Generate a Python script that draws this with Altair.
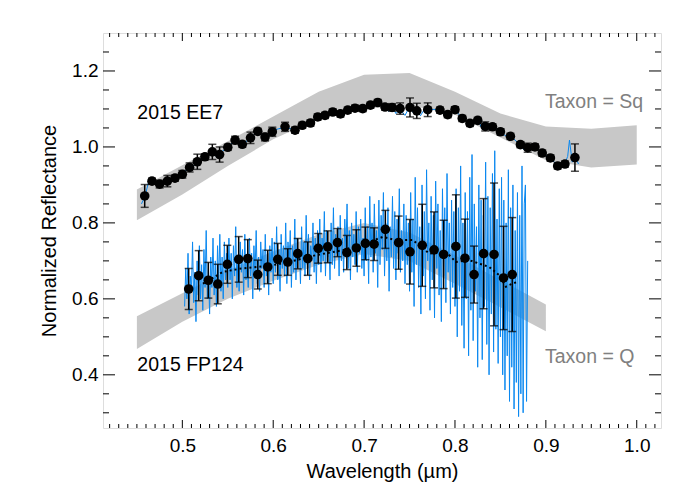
import altair as alt
import pandas as pd

# ---------------- data ----------------
# Taxon Sq envelope (upper gray band)
sq_wl = [0.45, 0.50, 0.55, 0.60, 0.65, 0.70, 0.75, 0.80, 0.85, 0.90, 0.95, 1.00]
sq_hi = [0.888, 0.952, 1.015, 1.080, 1.145, 1.190, 1.195, 1.145, 1.088, 1.054, 1.048, 1.057]
sq_lo = [0.807, 0.875, 0.950, 1.020, 1.075, 1.100, 1.110, 1.085, 1.025, 0.965, 0.946, 0.954]

# Taxon Q envelope (lower gray band)
q_wl = [0.45, 0.50, 0.55, 0.60, 0.65, 0.70, 0.75, 0.80, 0.85, 0.90]
q_hi = [0.554, 0.615, 0.675, 0.725, 0.770, 0.800, 0.775, 0.715, 0.650, 0.585]
q_lo = [0.468, 0.540, 0.600, 0.648, 0.690, 0.718, 0.700, 0.640, 0.578, 0.515]

# 2015 EE7 binned points
ee7_wl = [0.4586, 0.4666, 0.4750, 0.4835, 0.4919, 0.5000, 0.5080, 0.5165, 0.5248, 0.5330,
          0.5410, 0.5500, 0.5580, 0.5660, 0.5750, 0.5830, 0.5910, 0.5990, 0.6130, 0.6240,
          0.6320, 0.6410, 0.6490, 0.6570, 0.6655, 0.6740, 0.6820, 0.6900, 0.6985, 0.7070,
          0.7150, 0.7230, 0.7308, 0.7396, 0.7505, 0.7580, 0.7700, 0.7835, 0.7920, 0.8000,
          0.8080, 0.8165, 0.8250, 0.8333, 0.8413, 0.8500, 0.8610, 0.8720, 0.8800, 0.8880,
          0.8960, 0.9050, 0.9130, 0.9210, 0.9320]
ee7_val = [0.871, 0.910, 0.902, 0.910, 0.918, 0.928, 0.946, 0.961, 0.974, 0.987,
           0.980, 0.999, 1.018, 1.007, 1.024, 1.041, 1.026, 1.040, 1.053, 1.044,
           1.057, 1.063, 1.079, 1.083, 1.092, 1.087, 1.097, 1.102, 1.101, 1.110,
           1.117, 1.105, 1.104, 1.101, 1.104, 1.095, 1.098, 1.097, 1.085, 1.098,
           1.075, 1.062, 1.070, 1.054, 1.053, 1.040, 1.028, 1.006, 0.998, 1.000,
           0.984, 0.971, 0.950, 0.955, 0.972]
ee7_err = [0.030, 0.008, 0.010, 0.015, 0.008, 0.010, 0.012, 0.020, 0.008, 0.020,
           0.020, 0.008, 0.010, 0.008, 0.015, 0.008, 0.010, 0.012, 0.012, 0.008,
           0.008, 0.008, 0.008, 0.008, 0.008, 0.008, 0.008, 0.008, 0.008, 0.008,
           0.008, 0.008, 0.010, 0.015, 0.025, 0.020, 0.018, 0.008, 0.008, 0.008,
           0.008, 0.008, 0.008, 0.012, 0.008, 0.008, 0.008, 0.008, 0.012, 0.008,
           0.008, 0.008, 0.008, 0.008, 0.036]

# 2015 EE7 full-resolution spectrum (blue, mostly behind the points)
ee7_spec_wl = [0.455, 0.4586, 0.4626, 0.4666, 0.471, 0.475, 0.4835, 0.4919, 0.500, 0.504,
               0.508, 0.5165, 0.5248, 0.529, 0.533, 0.537, 0.541, 0.550, 0.558, 0.566,
               0.575, 0.583, 0.591, 0.599, 0.606, 0.613, 0.624, 0.632, 0.641, 0.649,
               0.657, 0.6655, 0.674, 0.682, 0.690, 0.6985, 0.707, 0.715, 0.723, 0.727,
               0.7308, 0.735, 0.7396, 0.745, 0.7505, 0.754, 0.758, 0.762, 0.766, 0.770,
               0.777, 0.7835, 0.792, 0.800, 0.808, 0.8165, 0.825, 0.829, 0.8333, 0.8413,
               0.850, 0.855, 0.861, 0.872, 0.876, 0.880, 0.888, 0.896, 0.905, 0.913,
               0.921, 0.924, 0.926, 0.929, 0.932, 0.936]
ee7_spec_val = [0.850, 0.868, 0.905, 0.912, 0.905, 0.898, 0.912, 0.915, 0.930, 0.938,
                0.944, 0.958, 0.976, 0.982, 0.990, 0.975, 0.982, 1.001, 1.016, 1.009,
                1.021, 1.043, 1.024, 1.042, 1.048, 1.051, 1.046, 1.055, 1.065, 1.077,
                1.085, 1.090, 1.089, 1.095, 1.104, 1.099, 1.112, 1.115, 1.103, 1.094,
                1.106, 1.088, 1.099, 1.083, 1.108, 1.090, 1.097, 1.082, 1.098, 1.096,
                1.099, 1.095, 1.087, 1.096, 1.077, 1.060, 1.072, 1.052, 1.056, 1.051,
                1.042, 1.030, 1.030, 1.004, 0.992, 1.000, 0.998, 0.986, 0.969, 0.952,
                0.957, 0.975, 1.018, 0.960, 0.975, 0.955]

# 2015 FP124 binned points
fp_wl = [0.507, 0.518, 0.5286, 0.539, 0.5495, 0.562, 0.572, 0.583, 0.594, 0.605,
         0.616, 0.627, 0.638, 0.6495, 0.660, 0.6707, 0.681, 0.6915, 0.7014, 0.711,
         0.7234, 0.738, 0.7505, 0.764, 0.777, 0.7875, 0.801, 0.811, 0.821, 0.8315,
         0.843, 0.8534, 0.863]
fp_val = [0.626, 0.661, 0.649, 0.639, 0.691, 0.704, 0.706, 0.664, 0.684, 0.704,
          0.697, 0.719, 0.706, 0.733, 0.737, 0.748, 0.722, 0.734, 0.746, 0.744,
          0.783, 0.748, 0.724, 0.741, 0.729, 0.717, 0.738, 0.707, 0.664, 0.719,
          0.717, 0.655, 0.664]
fp_err = [0.054, 0.066, 0.047, 0.052, 0.050, 0.060, 0.050, 0.038, 0.044, 0.042,
          0.035, 0.040, 0.044, 0.039, 0.042, 0.037, 0.045, 0.048, 0.043, 0.043,
          0.050, 0.070, 0.085, 0.108, 0.100, 0.090, 0.136, 0.103, 0.075, 0.145,
          0.188, 0.136, 0.150]

# 2015 FP124 smoothed (dotted) curve
fp_smooth_wl = [0.5227, 0.5446, 0.5648, 0.583, 0.600, 0.617, 0.647, 0.6765, 0.700, 0.7204,
                0.735, 0.7535, 0.7718, 0.790, 0.801, 0.8157, 0.8377, 0.8487, 0.856, 0.863, 0.868]
fp_smooth_val = [0.640, 0.671, 0.680, 0.684, 0.689, 0.697, 0.715, 0.728, 0.745, 0.763,
                 0.755, 0.755, 0.719, 0.724, 0.697, 0.702, 0.684, 0.662, 0.632, 0.640, 0.644]

# 2015 FP124 full-resolution spectrum (noisy blue), wavelength start/step
fp_spec_start = 0.5025
fp_spec_step = 0.00125
fp_spec_val = [
    # 0.50 - 0.55
    0.58, 0.68, 0.60, 0.72, 0.56, 0.66, 0.62, 0.75, 0.59, 0.67,
    0.54, 0.70, 0.61, 0.74, 0.60, 0.69, 0.57, 0.73, 0.63, 0.78,
    0.60, 0.68, 0.56, 0.71, 0.63, 0.76, 0.61, 0.70, 0.58, 0.74,
    0.64, 0.77, 0.62, 0.71, 0.60, 0.75, 0.65, 0.72,
    # 0.55 - 0.60
    0.63, 0.76, 0.65, 0.72, 0.60, 0.74, 0.66, 0.79, 0.63, 0.71,
    0.62, 0.75, 0.67, 0.73, 0.61, 0.77, 0.65, 0.70, 0.63, 0.76,
    0.66, 0.72, 0.60, 0.74, 0.67, 0.78, 0.64, 0.71, 0.62, 0.75,
    0.68, 0.73, 0.63, 0.77, 0.66, 0.72, 0.61, 0.74, 0.67, 0.76,
    # 0.60 - 0.65
    0.64, 0.75, 0.67, 0.79, 0.65, 0.73, 0.62, 0.77, 0.68, 0.74,
    0.66, 0.80, 0.64, 0.75, 0.69, 0.78, 0.63, 0.74, 0.67, 0.81,
    0.65, 0.76, 0.70, 0.73, 0.64, 0.79, 0.68, 0.75, 0.66, 0.82,
    0.69, 0.77, 0.65, 0.74, 0.70, 0.80, 0.67, 0.76, 0.64, 0.78,
    # 0.65 - 0.70
    0.69, 0.81, 0.67, 0.76, 0.70, 0.83, 0.66, 0.78, 0.71, 0.75,
    0.65, 0.80, 0.69, 0.84, 0.68, 0.77, 0.72, 0.79, 0.66, 0.82,
    0.70, 0.76, 0.67, 0.81, 0.73, 0.85, 0.68, 0.78, 0.65, 0.80,
    0.71, 0.77, 0.69, 0.83, 0.67, 0.79, 0.72, 0.81, 0.68, 0.76,
    # 0.70 - 0.75
    0.66, 0.84, 0.70, 0.79, 0.64, 0.87, 0.71, 0.80, 0.67, 0.85,
    0.72, 0.78, 0.63, 0.86, 0.69, 0.82, 0.73, 0.88, 0.66, 0.80,
    0.70, 0.84, 0.62, 0.79, 0.71, 0.87, 0.68, 0.83, 0.65, 0.81,
    0.72, 0.89, 0.67, 0.78, 0.70, 0.85, 0.64, 0.82, 0.69, 0.80,
    # 0.75 - 0.80
    0.62, 0.88, 0.67, 0.81, 0.58, 0.92, 0.69, 0.84, 0.63, 0.79,
    0.56, 0.90, 0.66, 0.83, 0.60, 0.94, 0.70, 0.80, 0.57, 0.87,
    0.65, 0.82, 0.55, 0.91, 0.68, 0.85, 0.61, 0.78, 0.54, 0.89,
    0.66, 0.84, 0.59, 0.93, 0.67, 0.80, 0.56, 0.86, 0.63, 0.83,
    # 0.80 - 0.85
    0.58, 0.89, 0.50, 0.84, 0.62, 0.95, 0.53, 0.80, 0.47, 0.88,
    0.60, 0.83, 0.45, 0.92, 0.57, 0.98, 0.49, 0.85, 0.62, 0.79,
    0.42, 0.90, 0.55, 0.86, 0.44, 0.82, 0.58, 0.96, 0.48, 0.87,
    0.40, 0.84, 0.56, 0.93, 0.46, 0.99, 0.52, 0.81, 0.43, 0.89,
    # 0.85 - 0.88
    0.50, 0.92, 0.40, 0.86, 0.36, 0.80, 0.45, 0.94, 0.33, 0.84,
    0.42, 0.90, 0.31, 0.78, 0.38, 0.88, 0.29, 0.82, 0.35, 0.95,
    0.30, 0.85, 0.90, 0.33, 0.70,
]

# annotations
black_labels = ["2015 EE7", "2015 FP124"]
black_label_x = [0.4505, 0.4505]
black_label_y = [1.089, 0.427]
gray_labels = ["Taxon = Sq", "Taxon = Q"]
gray_label_x = [0.899, 0.899]
gray_label_y = [1.118, 0.446]

# axis ticks
x_major = [0.5, 0.6, 0.7, 0.8, 0.9, 1.0]
x_minor = [round(0.42 + 0.01 * i, 2) for i in range(61)]
x_minor = [v for v in x_minor if round(v * 10, 6) != round(v * 10)]
y_major = [0.4, 0.6, 0.8, 1.0, 1.2]
y_minor = [round(0.30 + 0.05 * i, 2) for i in range(20)]
y_minor = [v for v in y_minor if v not in y_major]

# ---------------- chart ----------------
FONT = "Liberation Sans"
W, H = 558, 395
BLUE = "#0a88f0"
GRAY = "#c8c8c8"

xscale = alt.Scale(domain=[0.4127, 1.0267], nice=False, zero=False)
yscale = alt.Scale(domain=[0.26, 1.30], nice=False, zero=False)
xaxis = alt.Axis(values=x_major, format=".1f", title="Wavelength (µm)", ticks=False,
                 domain=False, grid=False, labelFontSize=19, titleFontSize=20,
                 labelPadding=8, titlePadding=6, labelFont=FONT, titleFont=FONT,
                 titleFontWeight="normal", labelColor="black", titleColor="black")
yaxis = alt.Axis(values=y_major, format=".1f", title="Normalized Reflectance", ticks=False,
                 domain=False, grid=False, labelFontSize=19, titleFontSize=20,
                 labelPadding=5, titlePadding=12, labelFont=FONT, titleFont=FONT,
                 titleFontWeight="normal", labelColor="black", titleColor="black")


def X():
    return alt.X("x:Q", scale=xscale, axis=xaxis)


def Y():
    return alt.Y("y:Q", scale=yscale, axis=yaxis)


sq_df = pd.DataFrame({"x": sq_wl, "y": sq_hi, "y2": sq_lo})
q_df = pd.DataFrame({"x": q_wl, "y": q_hi, "y2": q_lo})
ee7_df = pd.DataFrame({"x": ee7_wl, "y": ee7_val,
                       "lo": [v - e for v, e in zip(ee7_val, ee7_err)],
                       "hi": [v + e for v, e in zip(ee7_val, ee7_err)]})
fp_df = pd.DataFrame({"x": fp_wl, "y": fp_val,
                      "lo": [v - e for v, e in zip(fp_val, fp_err)],
                      "hi": [v + e for v, e in zip(fp_val, fp_err)]})
pts_df = pd.concat([ee7_df, fp_df], ignore_index=True)
ee7_spec_df = pd.DataFrame({"x": ee7_spec_wl, "y": ee7_spec_val})
fp_spec_df = pd.DataFrame({"x": [fp_spec_start + fp_spec_step * i for i in range(len(fp_spec_val))],
                           "y": fp_spec_val})
smooth_df = pd.DataFrame({"x": fp_smooth_wl, "y": fp_smooth_val})
black_df = pd.DataFrame({"x": black_label_x, "y": black_label_y, "t": black_labels})
gray_df = pd.DataFrame({"x": gray_label_x, "y": gray_label_y, "t": gray_labels})
xmaj_df = pd.DataFrame({"x": x_major})
xmin_df = pd.DataFrame({"x": x_minor})
ymaj_df = pd.DataFrame({"y": y_major})
ymin_df = pd.DataFrame({"y": y_minor})

sq_band = alt.Chart(sq_df).mark_area(color=GRAY, opacity=1).encode(x=X(), y=Y(), y2="y2:Q")
q_band = alt.Chart(q_df).mark_area(color=GRAY, opacity=1).encode(x=X(), y=Y(), y2="y2:Q")
ee7_spec = alt.Chart(ee7_spec_df).mark_line(color=BLUE, strokeWidth=1).encode(x=X(), y=Y(), order="x:Q")
fp_spec = alt.Chart(fp_spec_df).mark_line(color=BLUE, strokeWidth=1).encode(x=X(), y=Y(), order="x:Q")
smooth = alt.Chart(smooth_df).mark_line(color="black", strokeWidth=2, strokeDash=[2, 3]).encode(
    x=X(), y=Y(), order="x:Q")
stems = alt.Chart(pts_df).mark_rule(color="black", strokeWidth=1.5).encode(
    x=X(), y=alt.Y("lo:Q", scale=yscale, axis=yaxis), y2="hi:Q")
caps_lo = alt.Chart(pts_df).mark_tick(color="black", orient="horizontal", size=8, thickness=1.5).encode(
    x=X(), y=alt.Y("lo:Q", scale=yscale, axis=yaxis))
caps_hi = alt.Chart(pts_df).mark_tick(color="black", orient="horizontal", size=8, thickness=1.5).encode(
    x=X(), y=alt.Y("hi:Q", scale=yscale, axis=yaxis))
points = alt.Chart(pts_df).mark_circle(color="black", size=92, opacity=1).encode(x=X(), y=Y())
black_txt = alt.Chart(black_df).mark_text(align="left", baseline="middle", font=FONT,
                                          fontSize=19.5, color="black").encode(x=X(), y=Y(), text="t:N")
gray_txt = alt.Chart(gray_df).mark_text(align="left", baseline="middle", font=FONT,
                                        fontSize=19.5, color="#808080").encode(x=X(), y=Y(), text="t:N")

tick_style = dict(color="black", strokeWidth=1)
xt_bot_maj = alt.Chart(xmaj_df).mark_rule(**tick_style).encode(x=X(), y=alt.value(H), y2=alt.value(H - 8))
xt_top_maj = alt.Chart(xmaj_df).mark_rule(**tick_style).encode(x=X(), y=alt.value(0), y2=alt.value(8))
xt_bot_min = alt.Chart(xmin_df).mark_rule(**tick_style).encode(x=X(), y=alt.value(H), y2=alt.value(H - 4))
xt_top_min = alt.Chart(xmin_df).mark_rule(**tick_style).encode(x=X(), y=alt.value(0), y2=alt.value(4))
yt_l_maj = alt.Chart(ymaj_df).mark_rule(**tick_style).encode(y=Y(), x=alt.value(0), x2=alt.value(12))
yt_r_maj = alt.Chart(ymaj_df).mark_rule(**tick_style).encode(y=Y(), x=alt.value(W), x2=alt.value(W - 12))
yt_l_min = alt.Chart(ymin_df).mark_rule(**tick_style).encode(y=Y(), x=alt.value(0), x2=alt.value(6))
yt_r_min = alt.Chart(ymin_df).mark_rule(**tick_style).encode(y=Y(), x=alt.value(W), x2=alt.value(W - 6))

chart = alt.layer(
    sq_band, q_band, ee7_spec, fp_spec, smooth, stems, caps_lo, caps_hi, points,
    black_txt, gray_txt,
    xt_bot_maj, xt_top_maj, xt_bot_min, xt_top_min, yt_l_maj, yt_r_maj, yt_l_min, yt_r_min,
).properties(
    width=W, height=H,
    padding={"left": 95, "top": 25, "right": 23, "bottom": 58},
    autosize=alt.AutoSizeParams(type="none"),
).configure_view(stroke="black", strokeWidth=1).configure(background="white")

chart.save("out.html", embed_options={"renderer": "svg", "actions": False})
